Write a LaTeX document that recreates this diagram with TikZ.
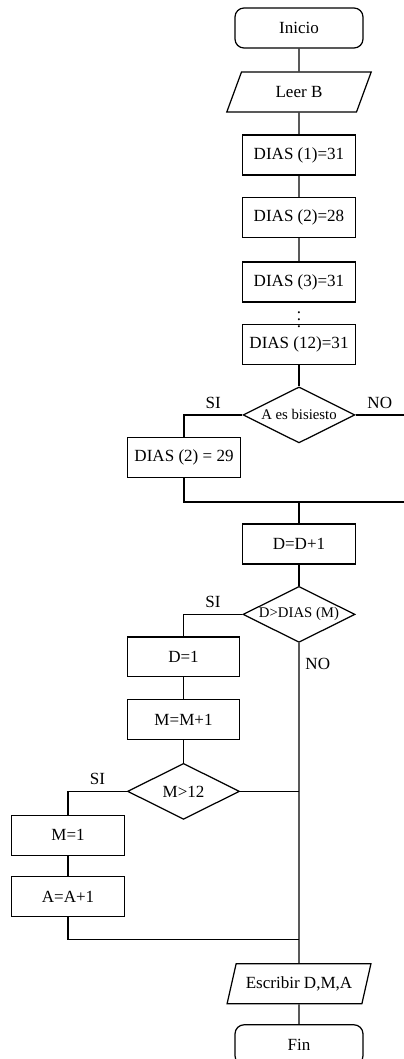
\documentclass[tikz,border=0pt]{standalone}
\usepackage{fontspec}
\setmainfont{Liberation Serif}
\usetikzlibrary{shapes.geometric, positioning, calc}

\tikzset{
	term/.style={rectangle, draw, rounded corners=0.18cm, minimum width=2.56cm, minimum height=0.8cm},
	proc/.style={rectangle, draw, minimum width=2.25cm, minimum height=0.8cm, inner sep=1pt},
	io/.style={trapezium, draw, trapezium left angle=72, trapezium right angle=108, trapezium stretches=true, minimum width=2.9cm, minimum height=0.8cm},
	decision/.style={diamond, draw, aspect=2, minimum width=2.24cm, minimum height=1.12cm, inner sep=0pt},
	smalltext/.style={font=\fontsize{8.4}{10}\selectfont}
}

\begin{document}
\begin{tikzpicture}[x=0.02cm, y=-0.02cm, on grid, line width=0.7pt, font=\fontsize{9.7}{11}\selectfont]
	\useasboundingbox (0,0) rectangle (404,1059);
	\node[term] (inicio) at (299,28) {Inicio};
	\node[io, below = 1.28cm of inicio] (leer) {Leer B};
	\node[proc, below = 1.26cm of leer] (d1) {DIAS (1)=31};
	\node[proc, below = 1.25cm of d1] (d2) {DIAS (2)=28};
	\node[proc, below = 1.29cm of d2] (d3) {DIAS (3)=31};
	\node[proc, below = 1.25cm of d3] (d12) {DIAS (12)=31};
	\node[inner sep=0pt] (dots) at ($(d3)!0.52!(d12)$) {$\vdots$};
	\node[decision, smalltext, below = 1.41cm of d12] (bis) {A es bisiesto};
	\node[proc, below left = 0.85cm and 2.3cm of bis] (d229) {DIAS (2) = 29};
	\node[proc, below = 2.58cm of bis] (dd) {D=D+1};
	\node[decision, smalltext, below = 1.41cm of dd] (dm) {D>DIAS (M)};
	\node[proc, below left = 0.85cm and 2.31cm of dm] (dset) {D=1};
	\node[proc, below = 1.26cm of dset] (mm) {M=M+1};
	\node[decision, below = 1.43cm of mm] (m12) {M>12};
	\node[proc, below left = 0.88cm and 2.31cm of m12] (m1) {M=1};
	\node[proc, below = 1.23cm of m1] (aa) {A=A+1};
	\node[io, below = 7.39cm of dm] (esc) {Escribir D,M,A};
	\node[term, below = 1.22cm of esc] (fin) {Fin};

	\coordinate[right = 2.1cm of bis] (r1);
	\coordinate[above = 0.84cm of dd] (j1);
	\coordinate (r2) at (r1 |- j1);
	\coordinate (j2) at (dm |- m12);
	\coordinate[above = 0.88cm of esc] (j3);

	\draw (inicio) -- (leer) -- (d1) -- (d2) -- (d3);
	\draw (d12) -- (bis);
	\draw (bis.west) -| node[above, pos=0.25] {SI} (d229.north);
	\draw (bis.east) -- node[above] {NO} (r1);
	\draw (d229.south) |- (r2);
	\draw (j1) -- (dd) -- (dm);
	\draw (dm.west) -| node[above, pos=0.25] {SI} (dset.north);
	\draw (dset) -- (mm) -- (m12);
	\draw (m12.west) -| node[above, pos=0.25] {SI} (m1.north);
	\draw (m12.east) -- (j2);
	\draw (m1) -- (aa);
	\draw (aa.south) |- (j3);
	\draw (dm.south) -- node[right, pos=0.07] {NO} (j3) -- (esc) -- (fin);
\end{tikzpicture}
\end{document}
